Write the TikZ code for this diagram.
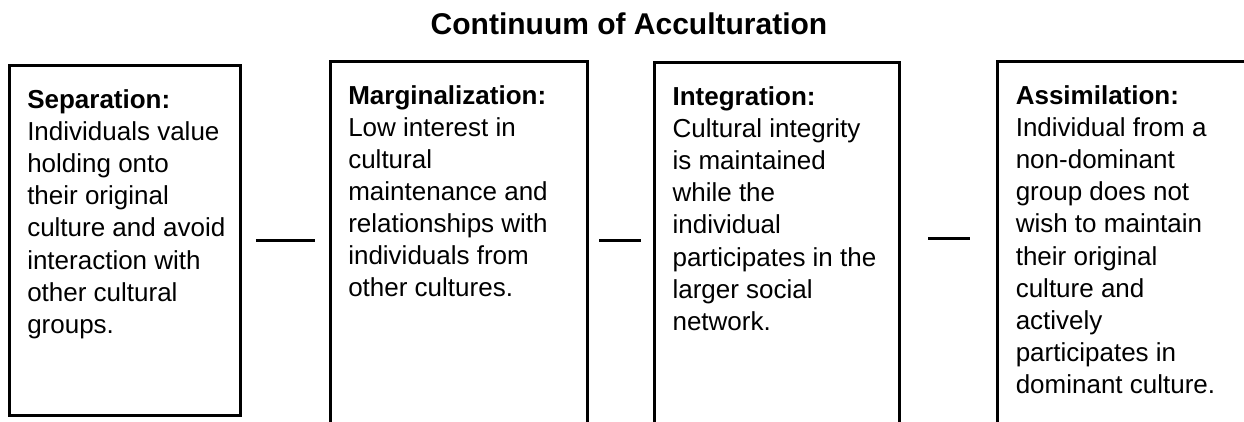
\documentclass[tikz,border=0pt]{standalone}
\usepackage{fontspec}
\setmainfont{Liberation Sans}
\usetikzlibrary{fit}

\begin{document}
\begin{tikzpicture}[x=0.75pt,y=-0.75pt,
    box/.style={draw,line width=2.25pt,inner sep=0pt,outer sep=0pt},
    txt/.style={anchor=north west,inner sep=0pt,align=left,
      font=\fontsize{19.5}{24.1}\selectfont},
    link/.style={line width=2.25pt}]
  \useasboundingbox (0,0) rectangle (1244,421);
  \clip (0,0) rectangle (1244,421);

  \node[anchor=base,font=\bfseries\fontsize{22.5}{27}\selectfont] (title) at (629,34.3) {Continuum of Acculturation};

  % the four stages, left to right
  \node[box,fit={(9.5,65.8) (240.5,415.8)}] (sep) {};
  \node[box,fit={(330.5,61.5) (587.2,440)}] (marg) {};
  \node[box,fit={(654.8,62.8) (899.2,440)}] (integ) {};
  \node[box,fit={(997.5,61.8) (1270,440)}] (assim) {};

  \node[txt] (septxt) at ([shift={(17.5,23.5)}]sep.north west)
    {\textbf{Separation:}\\Individuals value\\holding onto\\their original\\culture and avoid\\interaction with\\other cultural\\groups.};
  \node[txt] (margtxt) at ([shift={(17.5,23.5)}]marg.north west)
    {\textbf{Marginalization:}\\Low interest in\\cultural\\maintenance and\\relationships with\\individuals from\\other cultures.};
  \node[txt] (integtxt) at ([shift={(17.5,23.5)}]integ.north west)
    {\textbf{Integration:}\\Cultural integrity\\is maintained\\while the\\individual\\participates in the\\larger social\\network.};
  \node[txt] (assimtxt) at ([shift={(18,23.5)}]assim.north west)
    {\textbf{Assimilation:}\\Individual from a\\non-dominant\\group does not\\wish to maintain\\their original\\culture and\\actively\\participates in\\dominant culture.};

  % short dashes between the stages
  \coordinate (midA) at (0,240.2);
  \coordinate (midB) at (0,238.5);
  \draw[link,shorten <=11.6pt,shorten >=11.6pt] (sep.east |- midA) -- (marg.west |- midA);
  \draw[link,shorten <=9.1pt,shorten >=10.6pt] (marg.east |- midA) -- (integ.west |- midA);
  \draw[link,shorten <=21.8pt,shorten >=20.6pt] (integ.east |- midB) -- (assim.west |- midB);
\end{tikzpicture}
\end{document}
